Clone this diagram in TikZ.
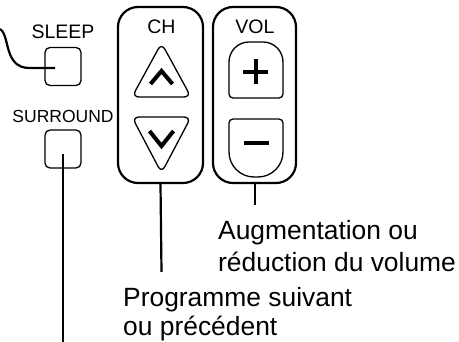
\documentclass[tikz,border=0pt]{standalone}
\usepackage{fontspec}
\setmainfont{Liberation Sans}
\begin{document}
\begin{tikzpicture}[x=1pt,y=-1pt,
  panel/.style={draw, line width=2.2pt, rounded corners=20pt, inner sep=0pt},
  btn/.style={draw, line width=1.3pt},
  smallbtn/.style={btn, rounded corners=5pt, minimum width=36pt, minimum height=38pt, inner sep=0pt},
  lead/.style={line width=2.2pt},
  lbl/.style={font=\fontsize{19.5}{21}\selectfont, inner sep=0pt},
  big/.style={font=\fontsize{26.4}{30}\selectfont, inner sep=0pt, anchor=base west},
  glyph/.style={line width=4pt}]
\useasboundingbox (0,0) rectangle (459,342);

% left buttons
\node[lbl] (sleeplbl) at (63,32) {SLEEP};
\node[smallbtn] (sleepbtn) at (63,66.5) {};
\node[lbl, font=\fontsize{17.5}{20}\selectfont] (surlbl) at (63,116) {SURROUND};
\node[smallbtn] (surbtn) at (63,149) {};

% panels
\node[panel, minimum width=85pt, minimum height=176pt] (chpanel) at (160.5,95) {};
\node[panel, minimum width=83pt, minimum height=176pt] (volpanel) at (254.5,95) {};
\node[lbl] (chlbl) at (161.5,27) {CH};
\node[lbl] (vollbl) at (255,27) {VOL};

% CH buttons
\draw[btn, rounded corners=7pt] (161.5,43) -- (191,97) -- (132,97) -- cycle;
\draw[btn, rounded corners=7pt] (132,117) -- (191,117) -- (161.5,173) -- cycle;
\draw[glyph, miter limit=10] (150.5,84) -- (161.5,71) -- (172.5,84);
\draw[glyph, miter limit=10] (149.5,131) -- (161.5,146) -- (173.5,131);

% VOL buttons
\draw[btn, line cap=round] (229,70) [rounded corners=4pt] -- (229,98) -- (283,98) -- (283,70)
  [rounded corners=20pt] -- (283,42) -- (229,42) [sharp corners] -- (229,70);
\draw[btn, line cap=round] (229,140) [rounded corners=4pt] -- (229,119) -- (283,119) -- (283,150)
  [rounded corners=25pt] -- (283,177) -- (229,177) [sharp corners] -- (229,140);
\draw[glyph] (243,72) -- (268,72) (255.5,59.5) -- (255.5,84.5);
\draw[glyph] (244,143) -- (269,143);

% texts
\node[big] (aug1) at (218,240) {Augmentation ou};
\node[big] (aug2) at (218,272) {réduction du volume};
\node[big] (prog1) at (123,307) {Programme suivant};
\node[big] (prog2) at (123,336) {ou précédent};

% leaders
\coordinate (chend) at (161.5,272);
\coordinate (volend) at (255,205);
\coordinate (surin) at (63,154);
\coordinate (surend) at (63,342);
\coordinate (sleepin) at (55,68);
\coordinate (sleepstart) at (0,29);
\draw[lead] (chpanel.south) -- (chend);
\draw[lead] (volpanel.south -| volend) -- (volend);
\draw[lead] (surin) -- (surend);
\draw[lead] (sleepstart) .. controls (7,33) and (6,50) .. (13,60)
  .. controls (18,67) and (24,68) .. (30,68) -- (sleepin);
\end{tikzpicture}
\end{document}
